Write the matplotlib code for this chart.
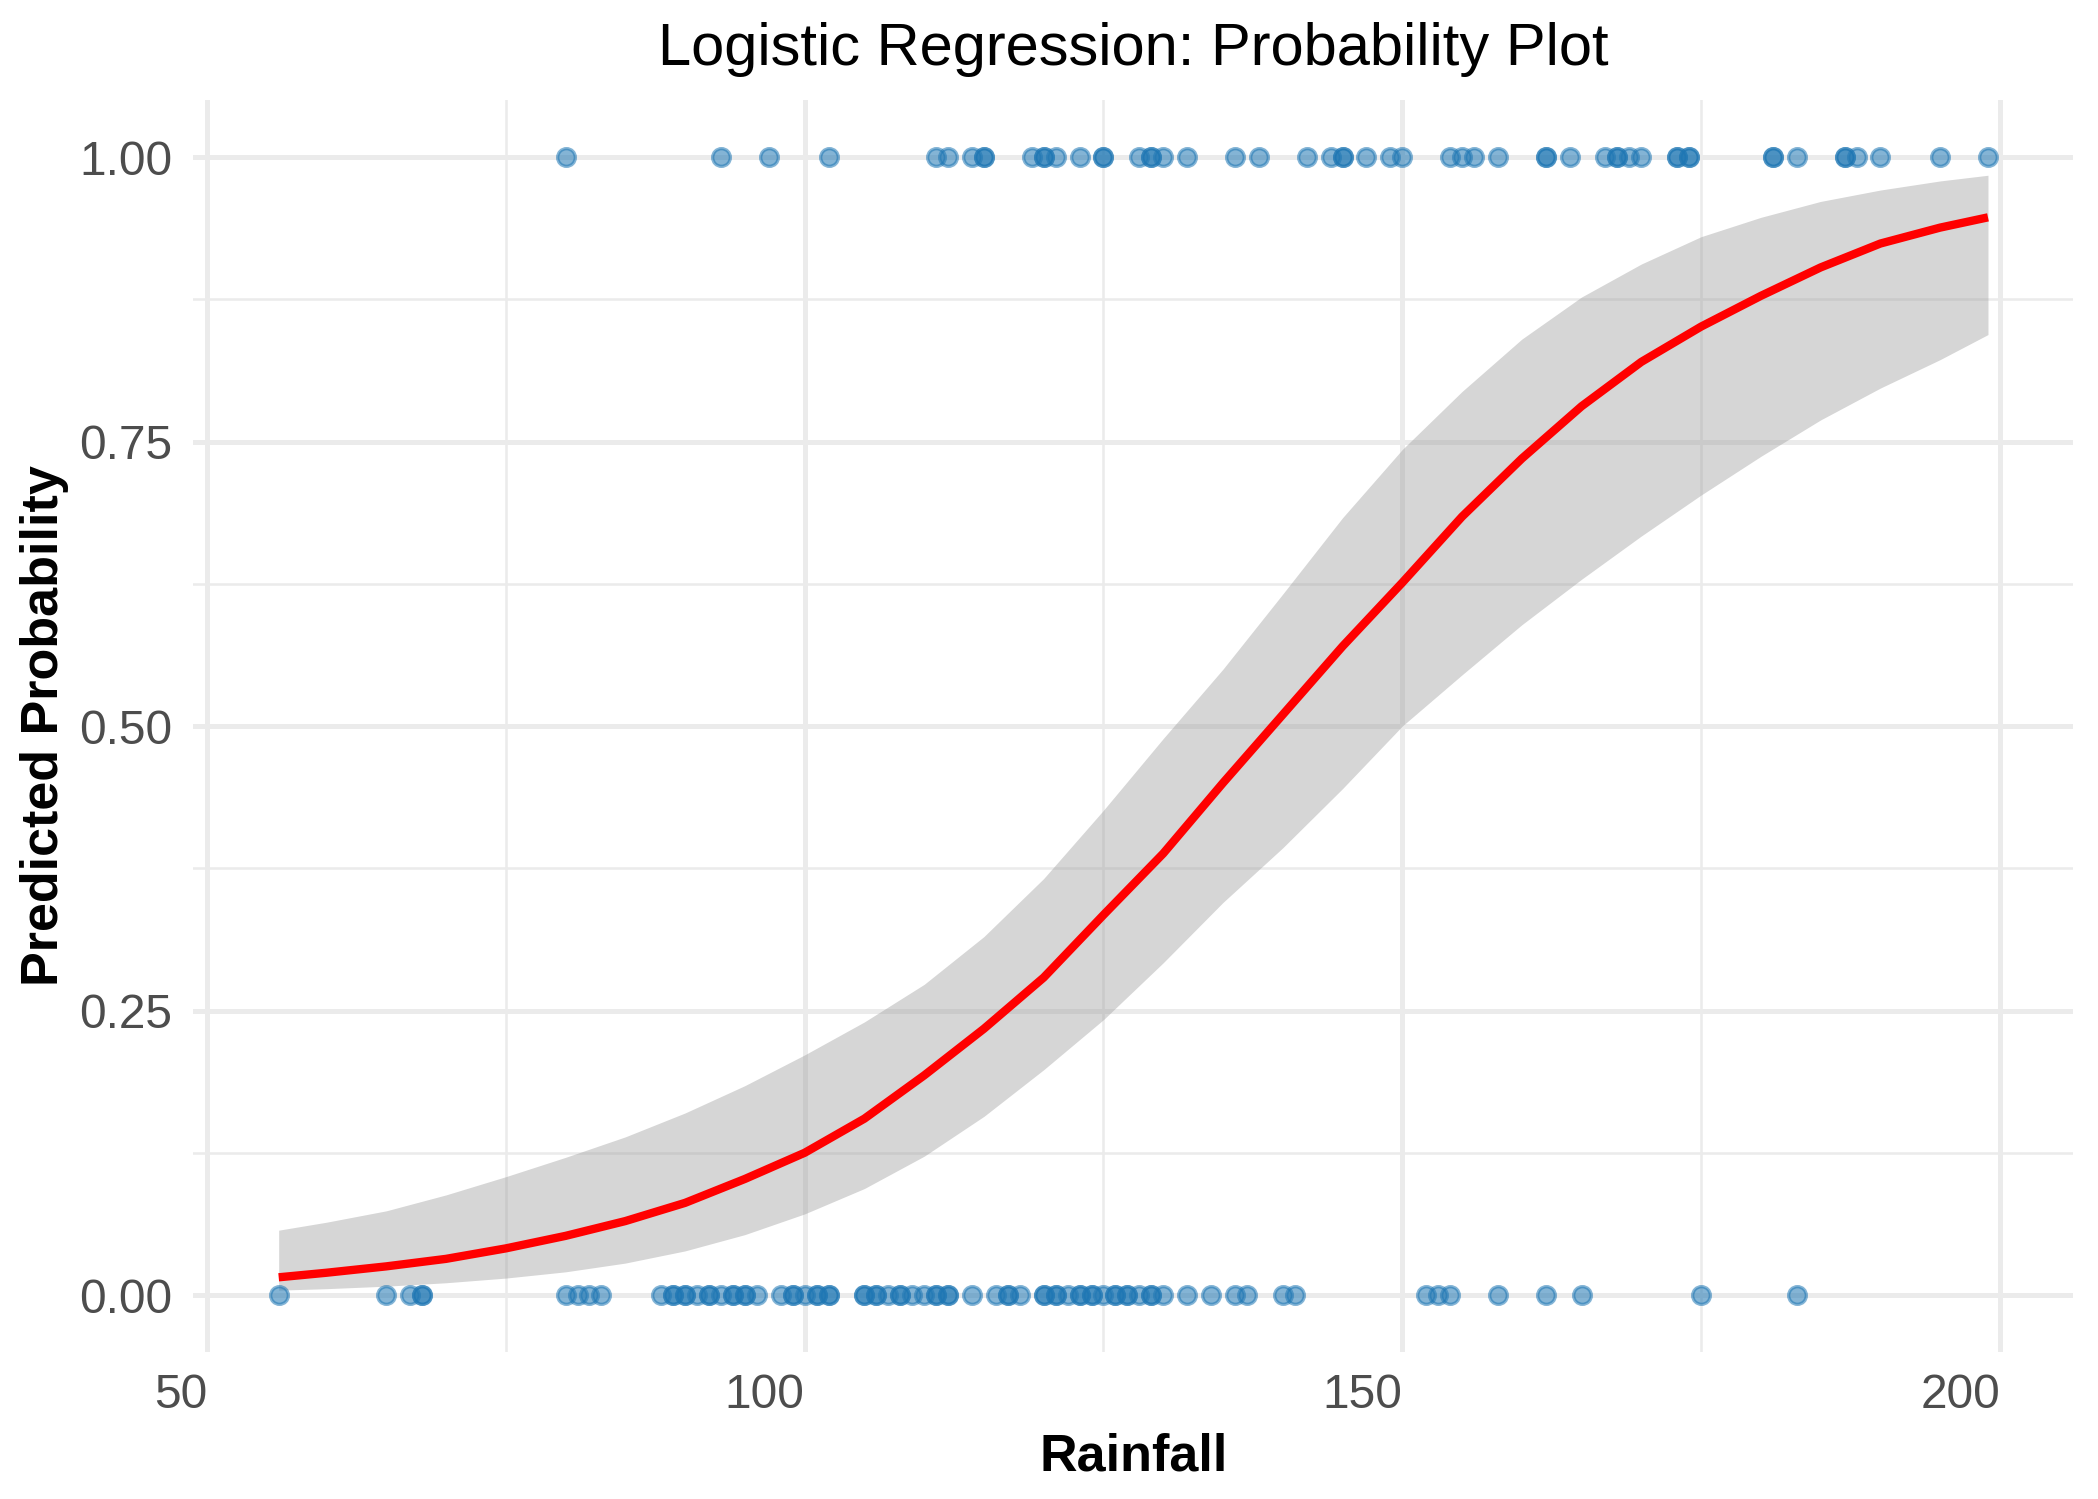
import numpy as np
import matplotlib
matplotlib.use("Agg")
import matplotlib.pyplot as plt
from matplotlib.ticker import MultipleLocator

plt.rcParams["font.family"] = ["Liberation Sans", "DejaVu Sans"]

rain_yes = [80, 93, 97, 102, 111, 112, 114, 115, 115, 119, 120, 120, 121, 123,
            125, 125, 128, 129, 129, 130, 132, 136, 138, 142, 144, 145, 145, 147,
            149, 150, 154, 155, 156, 158, 162, 162, 164, 167, 168, 168, 169, 170,
            173, 173, 174, 174, 181, 181, 183, 187, 187, 188, 190, 195, 199]
rain_no = [56, 65, 67, 68, 68, 80, 81, 82, 83, 88, 89, 89, 90, 90, 91, 92, 92,
           93, 94, 94, 95, 95, 96, 98, 99, 99, 100, 101, 101, 102, 102, 105, 105,
           106, 106, 107, 108, 108, 109, 110, 111, 111, 112, 112, 114, 116, 117,
           117, 118, 120, 120, 121, 121, 122, 123, 123, 124, 124, 125, 126, 126,
           127, 127, 128, 129, 129, 130, 132, 134, 136, 137, 140, 141, 152, 153,
           154, 158, 162, 165, 175, 183]

# Fitted probability curve and its confidence band
fit_x = [56, 60, 65, 70, 75, 80, 85, 90, 95, 100, 105, 110, 115, 120, 125,
         130, 135, 140, 145, 150, 155, 160, 165, 170, 175, 180, 185, 190, 195, 199]
fit_p = [0.0156, 0.0196, 0.0252, 0.0318, 0.041, 0.052, 0.065, 0.081, 0.102,
         0.125, 0.155, 0.193, 0.234, 0.279, 0.334, 0.388, 0.450, 0.510, 0.570,
         0.626, 0.684, 0.735, 0.781, 0.820, 0.851, 0.878, 0.903, 0.924, 0.938,
         0.947]
fit_hi = [0.057, 0.064, 0.074, 0.088, 0.104, 0.121, 0.139, 0.160, 0.184, 0.211,
          0.240, 0.273, 0.315, 0.366, 0.426, 0.489, 0.550, 0.616, 0.683, 0.743,
          0.794, 0.840, 0.877, 0.906, 0.930, 0.947, 0.961, 0.971, 0.979, 0.984]
fit_lo = [0.0043, 0.0056, 0.0078, 0.0108, 0.0149, 0.0204, 0.0281, 0.0388,
          0.0531, 0.0713, 0.0936, 0.122, 0.157, 0.198, 0.242, 0.292, 0.345,
          0.393, 0.445, 0.500, 0.545, 0.589, 0.629, 0.667, 0.703, 0.737, 0.769,
          0.797, 0.822, 0.844]

x_ticks = [50, 100, 150, 200]
y_ticks = [0.00, 0.25, 0.50, 0.75, 1.00]

POINT_RGB = (0.122, 0.467, 0.706)
GRID = "#ebebeb"

fig = plt.figure(figsize=(2098 / 300, 1499 / 300), dpi=300)
ax = fig.add_axes([0.0921, 0.0981, 0.8962, 0.8351])

# theme_minimal-like panel
for s in ax.spines.values():
    s.set_visible(False)
ax.set_axisbelow(True)
ax.xaxis.set_minor_locator(MultipleLocator(25))
ax.yaxis.set_minor_locator(MultipleLocator(0.125))
ax.grid(True, which="major", color=GRID, linewidth=1.2)
ax.grid(True, which="minor", color=GRID, linewidth=0.6)
ax.tick_params(which="both", length=0)

ax.fill_between(fit_x, fit_lo, fit_hi, color="#999999", alpha=0.4,
                linewidth=0, zorder=2)
ax.plot(fit_x, fit_p, color="red", linewidth=2.0, solid_capstyle="butt",
        solid_joinstyle="round", zorder=3)

face = POINT_RGB + (0.55,)
ax.scatter(rain_yes, np.ones(len(rain_yes)), s=18, facecolor=face,
           edgecolor=face, linewidth=0.8, zorder=4)
ax.scatter(rain_no, np.zeros(len(rain_no)), s=18, facecolor=face,
           edgecolor=face, linewidth=0.8, zorder=4)

x_span = max(rain_yes + rain_no) - min(rain_yes + rain_no)
ax.set_xlim(min(rain_no) - 0.05 * x_span, max(rain_yes) + 0.05 * x_span)
ax.set_ylim(-0.05, 1.05)

ax.set_xticks(x_ticks)
ax.set_xticklabels([str(v) for v in x_ticks])
for lbl in ax.get_xticklabels():
    lbl.set_horizontalalignment("right")
ax.set_yticks(y_ticks)
ax.set_yticklabels([f"{v:.2f}" for v in y_ticks])
ax.tick_params(axis="both", labelsize=11.5, labelcolor="#4d4d4d")
ax.tick_params(axis="x", pad=5)
ax.tick_params(axis="y", pad=5)

ax.set_xlabel("Rainfall", fontsize=12.5, fontweight="bold", labelpad=3.5)
ax.set_ylabel("Predicted Probability", fontsize=12.5, fontweight="bold",
              labelpad=2.5)

fig.text(0.5403, 1 - 65 / 1499, "Logistic Regression: Probability Plot",
         ha="center", va="baseline", fontsize=14.3, color="black")

fig.savefig("out.png", dpi=300, facecolor="white")
plt.close(fig)
